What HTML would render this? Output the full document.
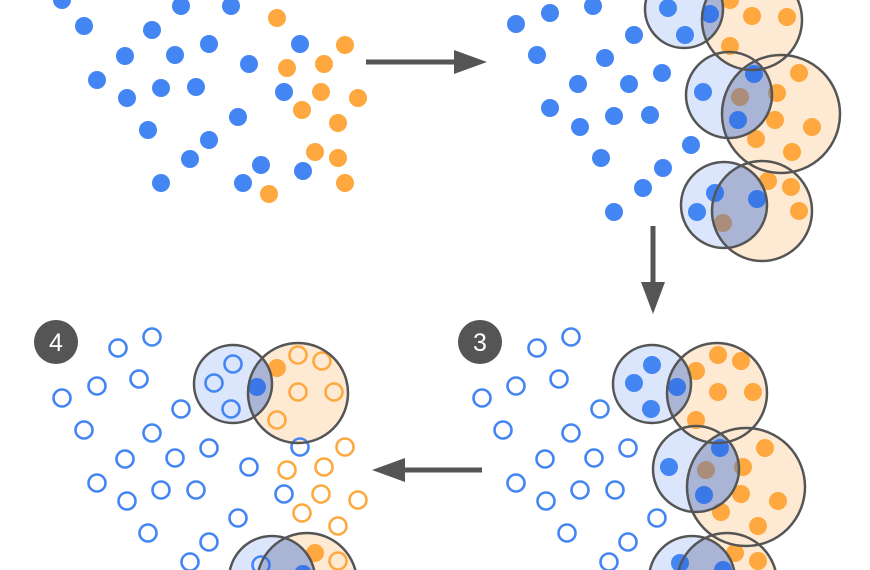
<!DOCTYPE html>
<html><head><meta charset="utf-8"><style>
html,body{margin:0;padding:0;background:#fff;width:870px;height:570px;overflow:hidden}
svg{display:block;overflow:hidden}
</style></head><body>
<svg width="870" height="570" viewBox="0 0 870 570" xmlns="http://www.w3.org/2000/svg">
<defs>
<clipPath id="c2a"><circle cx="684" cy="9" r="39"/></clipPath>
<clipPath id="c2b"><circle cx="729" cy="95" r="43"/></clipPath>
<clipPath id="c2c"><circle cx="724" cy="205" r="43"/></clipPath>
<clipPath id="c3a"><circle cx="652" cy="384" r="39"/></clipPath>
<clipPath id="c3b"><circle cx="696" cy="469" r="43"/></clipPath>
<clipPath id="c3c"><circle cx="692" cy="579" r="43"/></clipPath>
<clipPath id="c4a"><circle cx="233" cy="384" r="39"/></clipPath>
<clipPath id="c4c"><circle cx="272" cy="579" r="43"/></clipPath>
</defs>

<g fill="#dbe6fc">
<circle cx="684" cy="9" r="39"/><circle cx="729" cy="95" r="43"/><circle cx="724" cy="205" r="43"/>
<circle cx="652" cy="384" r="39"/><circle cx="696" cy="469" r="43"/><circle cx="692" cy="579" r="43"/>
<circle cx="233" cy="384" r="39"/><circle cx="272" cy="579" r="43"/>
</g>
<g fill="#feead2">
<circle cx="752" cy="20" r="50"/><circle cx="781" cy="114" r="59"/><circle cx="762" cy="211" r="50"/>
<circle cx="717" cy="393" r="50"/><circle cx="746" cy="487" r="59"/><circle cx="727" cy="583" r="50"/>
<circle cx="298" cy="393" r="50"/><circle cx="307" cy="583" r="50"/>
</g>

<g fill="#4386f3">
<circle cx="62" cy="0" r="9"/><circle cx="84" cy="26" r="9"/><circle cx="152" cy="30" r="9"/><circle cx="181" cy="6" r="9"/><circle cx="231" cy="6" r="9"/>
<circle cx="125" cy="56" r="9"/><circle cx="175" cy="55" r="9"/><circle cx="209" cy="44" r="9"/><circle cx="300" cy="44" r="9"/><circle cx="249" cy="64" r="9"/>
<circle cx="97" cy="80" r="9"/><circle cx="161" cy="88" r="9"/><circle cx="196" cy="87" r="9"/><circle cx="127" cy="98" r="9"/><circle cx="284" cy="92" r="9"/>
<circle cx="238" cy="117" r="9"/><circle cx="148" cy="130" r="9"/><circle cx="209" cy="140" r="9"/><circle cx="190" cy="159" r="9"/><circle cx="261" cy="165" r="9"/>
<circle cx="303" cy="171" r="9"/><circle cx="161" cy="183" r="9"/><circle cx="243" cy="183" r="9"/>
</g>
<g fill="#fea83f">
<circle cx="277" cy="18" r="9"/><circle cx="345" cy="45" r="9"/><circle cx="287" cy="68" r="9"/><circle cx="324" cy="64" r="9"/><circle cx="321" cy="92" r="9"/>
<circle cx="358" cy="98" r="9"/><circle cx="302" cy="110" r="9"/><circle cx="338" cy="123" r="9"/><circle cx="315" cy="152" r="9"/><circle cx="338" cy="158" r="9"/>
<circle cx="345" cy="183" r="9"/><circle cx="269" cy="194" r="9"/>
</g>

<g fill="#4386f3">
<circle cx="516" cy="24" r="9"/><circle cx="550" cy="13" r="9"/><circle cx="593" cy="6" r="9"/><circle cx="634" cy="35" r="9"/><circle cx="537" cy="55" r="9"/>
<circle cx="605" cy="58" r="9"/><circle cx="578" cy="84" r="9"/><circle cx="629" cy="84" r="9"/><circle cx="662" cy="73" r="9"/><circle cx="550" cy="108" r="9"/>
<circle cx="580" cy="127" r="9"/><circle cx="614" cy="116" r="9"/><circle cx="650" cy="115" r="9"/><circle cx="691" cy="145" r="9"/><circle cx="601" cy="158" r="9"/>
<circle cx="663" cy="168" r="9"/><circle cx="643" cy="188" r="9"/><circle cx="614" cy="212" r="9"/>
<circle cx="668" cy="8" r="9"/><circle cx="685" cy="35" r="9"/><circle cx="710" cy="14" r="9"/>
<circle cx="703" cy="92" r="9"/><circle cx="754" cy="74" r="9"/><circle cx="738" cy="120" r="9"/>
<circle cx="697" cy="212" r="9"/><circle cx="715" cy="193" r="9"/><circle cx="757" cy="199" r="9"/>
</g>
<g fill="#fea83f">
<circle cx="752" cy="16" r="9"/><circle cx="787" cy="17" r="9"/><circle cx="730" cy="46" r="9"/><circle cx="730" cy="0" r="9"/>
<circle cx="740" cy="97" r="9"/><circle cx="799" cy="73" r="9"/><circle cx="777" cy="93" r="9"/><circle cx="775" cy="120" r="9"/><circle cx="812" cy="127" r="9"/><circle cx="756" cy="139" r="9"/><circle cx="792" cy="152" r="9"/>
<circle cx="723" cy="223" r="9"/><circle cx="768" cy="181" r="9"/><circle cx="791" cy="187" r="9"/><circle cx="799" cy="211" r="9"/>
</g>

<g fill="none" stroke="#4386f3" stroke-width="2.6">
<circle cx="537" cy="348" r="8.5"/><circle cx="571" cy="337" r="8.5"/><circle cx="482" cy="398" r="8.5"/><circle cx="516" cy="386" r="8.5"/><circle cx="559" cy="379" r="8.5"/>
<circle cx="600" cy="409" r="8.5"/><circle cx="503" cy="430" r="8.5"/><circle cx="571" cy="433" r="8.5"/><circle cx="545" cy="459" r="8.5"/><circle cx="594" cy="458" r="8.5"/>
<circle cx="628" cy="448" r="8.5"/><circle cx="516" cy="483" r="8.5"/><circle cx="546" cy="501" r="8.5"/><circle cx="580" cy="490" r="8.5"/><circle cx="615" cy="490" r="8.5"/>
<circle cx="567" cy="533" r="8.5"/><circle cx="628" cy="542" r="8.5"/><circle cx="657" cy="518" r="8.5"/><circle cx="609" cy="562" r="8.5"/>
</g>
<g fill="#4386f3">
<circle cx="652" cy="365" r="9"/><circle cx="634" cy="383" r="9"/><circle cx="651" cy="409" r="9"/><circle cx="677" cy="387" r="9"/>
<circle cx="669" cy="467" r="9"/><circle cx="720" cy="448" r="9"/><circle cx="704" cy="495" r="9"/>
<circle cx="680" cy="563" r="9"/><circle cx="723" cy="570" r="9"/>
</g>
<g fill="#fea83f">
<circle cx="718" cy="355" r="9"/><circle cx="741" cy="361" r="9"/><circle cx="696" cy="371" r="9"/><circle cx="718" cy="392" r="9"/><circle cx="753" cy="392" r="9"/><circle cx="696" cy="420" r="9"/>
<circle cx="706" cy="470" r="9"/><circle cx="765" cy="448" r="9"/><circle cx="743" cy="467" r="9"/><circle cx="741" cy="494" r="9"/><circle cx="778" cy="501" r="9"/><circle cx="721" cy="512" r="9"/><circle cx="758" cy="526" r="9"/>
<circle cx="735" cy="553" r="9"/><circle cx="758" cy="561" r="9"/>
</g>

<g fill="none" stroke="#4386f3" stroke-width="2.6">
<circle cx="118" cy="348" r="8.5"/><circle cx="152" cy="337" r="8.5"/><circle cx="62" cy="398" r="8.5"/><circle cx="97" cy="386" r="8.5"/><circle cx="139" cy="379" r="8.5"/>
<circle cx="181" cy="409" r="8.5"/><circle cx="84" cy="430" r="8.5"/><circle cx="152" cy="433" r="8.5"/><circle cx="125" cy="459" r="8.5"/><circle cx="175" cy="458" r="8.5"/>
<circle cx="209" cy="448" r="8.5"/><circle cx="97" cy="483" r="8.5"/><circle cx="127" cy="501" r="8.5"/><circle cx="161" cy="490" r="8.5"/><circle cx="196" cy="490" r="8.5"/>
<circle cx="148" cy="533" r="8.5"/><circle cx="209" cy="542" r="8.5"/><circle cx="238" cy="518" r="8.5"/><circle cx="190" cy="562" r="8.5"/>
<circle cx="249" cy="467" r="8.5"/><circle cx="284" cy="494" r="8.5"/><circle cx="300" cy="447" r="8.5"/>
<circle cx="233" cy="364" r="8.5"/><circle cx="214" cy="383" r="8.5"/><circle cx="231" cy="409" r="8.5"/><circle cx="261" cy="565" r="8.5"/>
</g>
<g fill="none" stroke="#fea83f" stroke-width="2.6">
<circle cx="287" cy="470" r="8.5"/><circle cx="324" cy="467" r="8.5"/><circle cx="345" cy="447" r="8.5"/><circle cx="321" cy="494" r="8.5"/><circle cx="358" cy="500" r="8.5"/>
<circle cx="302" cy="513" r="8.5"/><circle cx="338" cy="526" r="8.5"/>
<circle cx="298" cy="355" r="8.5"/><circle cx="322" cy="361" r="8.5"/><circle cx="298" cy="392" r="8.5"/><circle cx="334" cy="392" r="8.5"/><circle cx="277" cy="420" r="8.5"/>
<circle cx="338" cy="561" r="8.5"/>
</g>
<g fill="#4386f3"><circle cx="257" cy="387" r="9"/><circle cx="303" cy="574" r="9"/></g>
<g fill="#fea83f"><circle cx="277" cy="368" r="9"/><circle cx="315" cy="553" r="9"/></g>

<g fill="rgba(45,100,215,0.4)">
<circle cx="752" cy="20" r="50" clip-path="url(#c2a)"/>
<circle cx="781" cy="114" r="59" clip-path="url(#c2b)"/>
<circle cx="762" cy="211" r="50" clip-path="url(#c2c)"/>
<circle cx="717" cy="393" r="50" clip-path="url(#c3a)"/>
<circle cx="746" cy="487" r="59" clip-path="url(#c3b)"/>
<circle cx="727" cy="583" r="50" clip-path="url(#c3c)"/>
<circle cx="298" cy="393" r="50" clip-path="url(#c4a)"/>
<circle cx="307" cy="583" r="50" clip-path="url(#c4c)"/>
</g>

<g fill="none" stroke="#555" stroke-width="2.5">
<circle cx="684" cy="9" r="39"/><circle cx="729" cy="95" r="43"/><circle cx="724" cy="205" r="43"/>
<circle cx="652" cy="384" r="39"/><circle cx="696" cy="469" r="43"/><circle cx="692" cy="579" r="43"/>
<circle cx="233" cy="384" r="39"/><circle cx="272" cy="579" r="43"/>
<circle cx="752" cy="20" r="50"/><circle cx="781" cy="114" r="59"/><circle cx="762" cy="211" r="50"/>
<circle cx="717" cy="393" r="50"/><circle cx="746" cy="487" r="59"/><circle cx="727" cy="583" r="50"/>
<circle cx="298" cy="393" r="50"/><circle cx="307" cy="583" r="50"/>
</g>

<g fill="#555" stroke="#555">
<line x1="366" y1="62" x2="458" y2="62" stroke-width="5"/>
<polygon points="454,50 487,62 454,74" stroke="none"/>
<line x1="653" y1="226" x2="653" y2="286" stroke-width="5"/>
<polygon points="641,282 665,282 653,314" stroke="none"/>
<line x1="482" y1="470" x2="400" y2="470" stroke-width="5"/>
<polygon points="405,458 372,470 405,482" stroke="none"/>
</g>

<circle cx="480" cy="342" r="22" fill="#555"/>
<text x="480" y="351" text-anchor="middle" font-family="Liberation Sans, sans-serif" font-size="25" fill="#fff">3</text>
<circle cx="56" cy="342" r="22" fill="#555"/>
<text x="56" y="351" text-anchor="middle" font-family="Liberation Sans, sans-serif" font-size="25" fill="#fff">4</text>
</svg>
</body></html>
